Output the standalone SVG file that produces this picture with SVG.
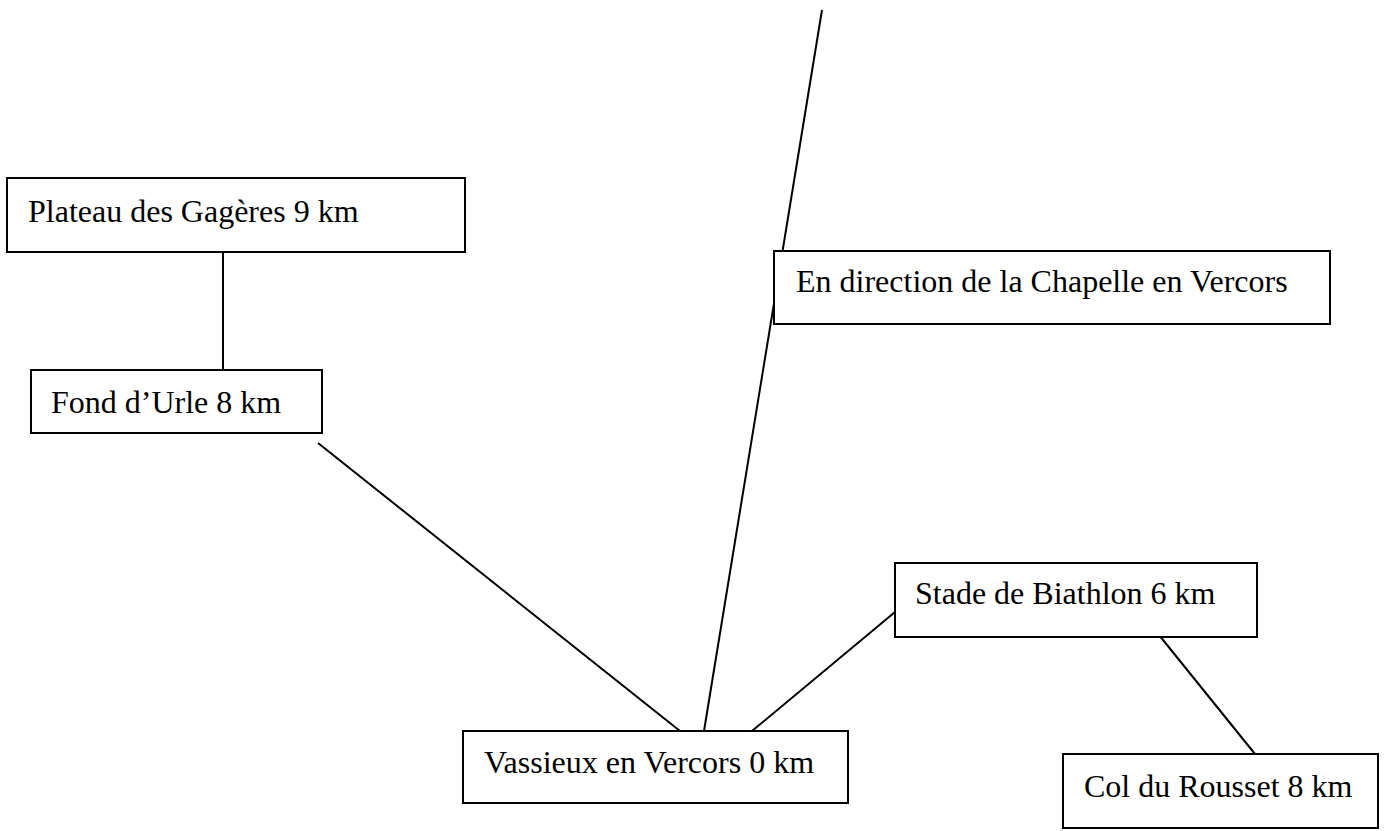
<svg xmlns="http://www.w3.org/2000/svg" width="1390" height="831" viewBox="0 0 1390 831">
<style>
.box{fill:#fff;stroke:#000;stroke-width:2}
.lbl{font-family:"Liberation Serif","Times New Roman",serif;font-size:32px;fill:#000}
.edge{stroke:#000;stroke-width:2;fill:none}
</style>
<rect width="1390" height="831" fill="#fff"/>
<g id="connectors">
<line class="edge" x1="223" y1="252" x2="223" y2="370"/>
<line class="edge" x1="318" y1="443" x2="680" y2="731"/>
<line class="edge" x1="822" y1="10" x2="704" y2="731"/>
<line class="edge" x1="752" y1="731" x2="895" y2="612"/>
<line class="edge" x1="1159" y1="635" x2="1255" y2="754"/>
</g>
<g id="plateau"><rect class="box" x="7" y="178" width="458" height="74"/><text class="lbl" x="28" y="222">Plateau des Gagères 9 km</text></g>
<g id="fond"><rect class="box" x="31" y="370" width="291" height="63"/><text class="lbl" x="51" y="413">Fond d’Urle 8 km</text></g>
<g id="chapelle"><rect class="box" x="774" y="251" width="556" height="73"/><text class="lbl" x="796" y="292">En direction de la Chapelle en Vercors</text></g>
<g id="vassieux"><rect class="box" x="463" y="731" width="385" height="72"/><text class="lbl" x="484" y="773">Vassieux en Vercors 0 km</text></g>
<g id="stade"><rect class="box" x="895" y="563" width="362" height="74"/><text class="lbl" x="915" y="604">Stade de Biathlon 6 km</text></g>
<g id="col"><rect class="box" x="1063" y="754" width="315" height="74"/><text class="lbl" x="1084" y="797">Col du Rousset 8 km</text></g>
</svg>
